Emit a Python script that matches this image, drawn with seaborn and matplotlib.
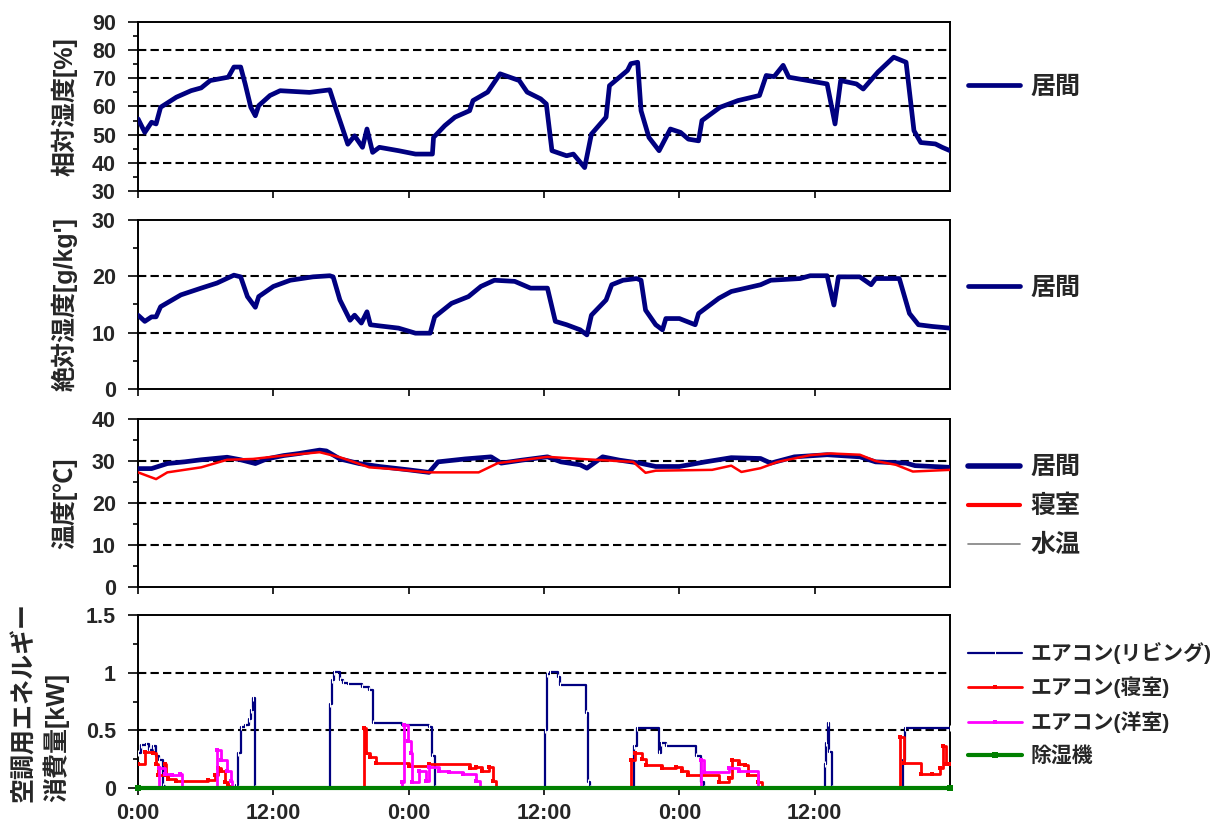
import numpy as np
import matplotlib
matplotlib.use("Agg")
import matplotlib.pyplot as plt
from matplotlib.lines import Line2D
import seaborn as sns

# x axis: hours from start (3 days)
x_ticks = [0, 12, 24, 36, 48, 60]
x_ticklabels = ["0:00", "12:00", "0:00", "12:00", "0:00", "12:00"]

# relative humidity (living) [%]
rh_t = [0, 0.6, 1.2, 1.6, 2.0, 3.4, 4.7, 5.6, 6.4, 8.0, 8.5, 9.1, 9.5, 10.0, 10.4, 10.7,
        11.7, 12.6, 15.2, 17.0, 17.6, 18.1, 18.6, 19.2, 19.9, 20.3, 20.8, 21.4, 23.1, 24.6,
        26.1, 26.2, 27.2, 28.1, 29.4, 29.7, 31.0, 32.1, 33.8, 34.5, 35.7, 36.2, 36.7, 38.0,
        38.6, 39.6, 40.2, 41.5, 41.8, 43.4, 43.7, 44.3, 44.6, 45.3, 46.2, 47.2, 48.1, 48.8,
        49.7, 50.0, 51.6, 53.2, 55.1, 55.7, 56.4, 57.2, 57.7, 61.1, 61.8, 62.3, 63.7, 64.3,
        65.6, 67.0, 68.1, 68.8, 69.4, 70.7, 71.3, 72.0]
rh_v = [55.6, 50.8, 54.4, 53.8, 59.7, 63.3, 65.6, 66.6, 69.2, 70.4, 74.0, 74.0, 68.0, 59.7, 56.7, 60.3,
        63.9, 65.6, 65.0, 65.9, 58.5, 52.6, 46.6, 49.6, 45.5, 52.0, 43.7, 45.5, 44.3, 43.1,
        43.1, 49.0, 53.2, 56.2, 58.5, 62.1, 65.1, 71.6, 69.2, 65.1, 62.7, 60.9, 44.3, 42.5,
        43.1, 38.3, 50.2, 56.2, 67.4, 72.8, 75.2, 75.7, 58.5, 49.0, 44.3, 52.0, 50.8, 48.4,
        47.8, 55.0, 59.7, 62.1, 63.9, 71.0, 70.6, 74.6, 70.4, 68.0, 53.8, 69.2, 68.0, 66.2,
        72.2, 77.5, 75.7, 51.4, 47.2, 46.7, 45.5, 44.3]

# absolute humidity (living) [g/kg']
ah_t = [0, 0.6, 1.2, 1.6, 2.0, 3.8, 5.6, 7.0, 8.5, 9.1, 9.7, 10.4, 10.7, 12.0, 13.5, 15.5,
        17.0, 17.3, 17.9, 18.8, 19.2, 19.8, 20.3, 20.6, 21.4, 23.1, 24.6, 25.9, 26.3, 27.8,
        29.3, 30.4, 31.6, 33.4, 34.8, 36.3, 37.0, 38.0, 39.2, 39.8, 40.2, 41.5, 42.0, 43.0,
        44.2, 44.6, 45.0, 45.9, 46.5, 46.8, 48.0, 49.4, 49.7, 51.5, 52.6, 55.2, 56.1, 58.7,
        59.6, 61.1, 61.7, 62.1, 64.0, 65.0, 65.4, 67.5, 68.4, 69.2, 70.4, 72.0]
ah_v = [13.1, 12.0, 12.8, 12.8, 14.6, 16.7, 17.9, 18.8, 20.2, 19.9, 16.4, 14.5, 16.4, 18.2, 19.3, 19.9,
        20.1, 19.9, 15.8, 12.2, 13.1, 11.7, 13.7, 11.4, 11.2, 10.8, 9.9, 9.9, 12.8, 15.2,
        16.4, 18.2, 19.3, 19.1, 17.9, 17.9, 12.0, 11.4, 10.5, 9.6, 13.1, 15.8, 18.5, 19.3,
        19.6, 19.3, 14.0, 11.4, 10.5, 12.5, 12.5, 11.4, 13.4, 16.1, 17.3, 18.5, 19.3, 19.6,
        20.1, 20.1, 14.9, 19.9, 19.9, 18.5, 19.6, 19.6, 13.4, 11.4, 11.1, 10.8]

# temperature [C]
tl_t = [0, 1.2, 2.6, 4.1, 5.6, 7.9, 9.1, 10.4, 11.4, 12.9, 14.3, 16.1, 16.7, 17.9, 19.6,
        21.4, 24.0, 25.8, 26.6, 29.0, 31.3, 32.2, 34.0, 36.3, 37.5, 39.2, 39.8, 41.2, 42.7,
        44.5, 45.9, 48.0, 50.3, 52.6, 55.2, 56.1, 58.2, 61.1, 64.0, 65.4, 68.1, 68.9, 72.0]
tl_v = [28.2, 28.2, 29.4, 29.8, 30.3, 30.9, 30.3, 29.4, 30.5, 31.3, 31.8, 32.6, 32.4, 30.5, 29.4,
        28.7, 27.9, 27.3, 29.8, 30.5, 31.0, 29.5, 30.2, 31.0, 29.8, 29.1, 28.3, 31.0, 30.2,
        29.5, 28.7, 28.7, 29.8, 30.8, 30.6, 29.5, 31.0, 31.5, 31.0, 29.8, 29.5, 28.9, 28.5]
tb_t = [0, 1.6, 2.6, 5.6, 7.9, 10.2, 12.9, 16.1, 17.9, 20.5, 22.5, 25.8, 27.5, 30.2, 31.9,
        34.0, 36.3, 39.2, 43.9, 45.0, 45.9, 50.9, 52.6, 53.5, 55.2, 56.7, 59.6, 61.4, 64.0,
        65.4, 67.2, 68.7, 72.0]
tb_v = [27.3, 25.7, 27.3, 28.5, 30.3, 30.5, 31.3, 32.1, 30.9, 28.5, 28.1, 27.3, 27.3, 27.3, 29.5,
        30.2, 31.0, 30.5, 29.8, 27.2, 27.7, 27.9, 28.9, 27.4, 28.3, 29.8, 31.4, 31.8, 31.5,
        30.0, 29.1, 27.5, 27.9]

# air-conditioning power [kW] (step data)
ac_liv_t = [0, 0.3, 0.7, 1.0, 1.3, 1.6, 1.9, 2.2, 2.4,
            8.7, 8.9, 9.1, 9.5, 9.8, 10.0, 10.2, 10.4,
            17.0, 17.2, 17.4, 17.9, 18.2, 18.6, 19.9, 20.5, 20.8, 23.4, 25.8, 26.1, 26.3,
            36.1, 36.3, 36.5, 37.2, 37.4, 39.7, 39.9, 40.1,
            44.0, 44.2, 46.2, 46.4, 46.8, 49.5, 49.9, 50.2,
            60.9, 61.0, 61.15, 61.3, 61.5,
            67.8, 68.0, 72.0]
ac_liv_v = [0.30, 0.37, 0.38, 0.33, 0.36, 0.28, 0.24, 0.02, 0.0,
            0.03, 0.30, 0.53, 0.55, 0.60, 0.68, 0.78, 0.0,
            0.73, 0.94, 1.01, 0.94, 0.91, 0.90, 0.88, 0.85, 0.56, 0.55, 0.53, 0.28, 0.0,
            0.50, 0.99, 1.01, 0.96, 0.89, 0.65, 0.05, 0.0,
            0.36, 0.52, 0.30, 0.39, 0.36, 0.28, 0.05, 0.0,
            0.21, 0.39, 0.56, 0.31, 0.0,
            0.24, 0.52, 0.52]
ac_bed_t = [0, 0.6, 1.3, 1.6, 1.8, 2.4, 2.5, 2.7, 3.4, 6.2, 6.8, 7.1, 7.4, 7.7, 8.0, 8.3,
            20.0, 20.2, 20.6, 21.1, 24.0, 25.8, 29.4, 30.0, 30.5, 31.1, 31.5, 31.7,
            43.7, 44.1, 44.7, 45.0, 46.5, 47.7, 48.2, 48.8, 51.5, 52.4, 52.7, 53.3, 53.8, 54.1, 55.0, 55.3,
            67.6, 67.9, 69.4, 70.4, 71.1, 71.4, 71.6, 72.0]
ac_bed_v = [0.21, 0.31, 0.30, 0.21, 0.11, 0.21, 0.11, 0.08, 0.06, 0.07, 0.11, 0.17, 0.15, 0.05, 0.02, 0.0,
            0.52, 0.30, 0.27, 0.22, 0.19, 0.21, 0.17, 0.18, 0.15, 0.18, 0.06, 0.0,
            0.24, 0.30, 0.25, 0.20, 0.17, 0.18, 0.15, 0.11, 0.05, 0.09, 0.24, 0.21, 0.20, 0.11, 0.05, 0.0,
            0.44, 0.22, 0.12, 0.12, 0.17, 0.36, 0.21, 0.21]
ac_west_t = [0, 1.9, 2.4, 3.0, 3.7, 3.9, 7.0, 7.4, 7.9, 8.2, 8.3,
             23.4, 23.6, 23.9, 24.2, 24.3, 24.9, 25.5, 25.8, 26.7, 27.6, 28.8, 30.0, 30.3,
             49.9, 50.2, 52.4, 53.3, 55.0, 72.0]
ac_west_v = [0.0, 0.17, 0.12, 0.11, 0.12, 0.0, 0.33, 0.24, 0.15, 0.06, 0.0,
             0.05, 0.55, 0.41, 0.30, 0.05, 0.15, 0.06, 0.18, 0.15, 0.14, 0.12, 0.06, 0.0,
             0.24, 0.14, 0.17, 0.15, 0.0, 0.0]
dehum_t = [0, 72.0]
dehum_v = [0.0, 0.0]

NAVY, RED, MAGENTA, GREEN, GRAY = "#000080", "#ff0000", "#ff00ff", "#008000", "#808080"

sns.set_style("ticks")
plt.rcParams["font.family"] = ["Liberation Sans", "Noto Sans CJK JP"]

fig = plt.figure(figsize=(12.27, 8.26), dpi=100)
L, W = 0.1125, 0.6618
rects = [[L, 0.7688, W, 0.2046], [L, 0.5291, W, 0.2046],
         [L, 0.2893, W, 0.2034], [L, 0.0460, W, 0.2094]]
ax1, ax2, ax3, ax4 = [fig.add_axes(r) for r in rects]

cjk = {"size": 18, "weight": "bold"}


def style(ax, lo, hi, step, grid_vals, label, label_x=-0.075):
    ax.set_xlim(0, 72)
    ax.set_ylim(lo, hi)
    ax.set_yticks(np.arange(lo, hi + step / 2, step))
    ax.set_yticks(np.arange(lo, hi, step / 2), minor=True)
    for g in grid_vals:
        ax.axhline(g, color="black", lw=1.5, ls=(0, (4, 2)), zorder=1)
    for s in ax.spines.values():
        s.set_linewidth(1.4)
        s.set_color("black")
        s.set_visible(True)
    ax.tick_params(axis="y", which="major", direction="out", length=7, width=1.4,
                   labelsize=15.5, pad=9)
    ax.tick_params(axis="y", which="minor", direction="out", length=3.5, width=1.4)
    ax.set_xticks(x_ticks)
    ax.tick_params(axis="x", direction="out", length=5, width=1.4, labelbottom=False)
    for t in ax.get_yticklabels():
        t.set_fontweight("bold")
    ax.set_xlabel("")
    ax.set_ylabel(label, fontdict=cjk, multialignment="left", linespacing=1.3)
    ax.yaxis.set_label_coords(label_x, 0.5)


def put_legend(ax, y, handles=None, size=18, spacing=0.65, hl=2.1):
    if handles is None:
        handles, _ = ax.get_legend_handles_labels()
    ax.legend(handles=handles, loc="center left", bbox_to_anchor=(1.022, y),
              frameon=False, prop={"size": size, "weight": "bold"},
              handlelength=hl, handletextpad=0.4, borderaxespad=0, borderpad=0,
              labelspacing=spacing)


line_kw = dict(estimator=None, sort=False)

# panel 1: relative humidity
sns.lineplot(x=rh_t, y=rh_v, ax=ax1, color=NAVY, lw=3.4, label="居間", zorder=3, **line_kw)
style(ax1, 30, 90, 10, [40, 50, 60, 70, 80], "相対湿度[%]")
put_legend(ax1, 0.615)

# panel 2: absolute humidity
sns.lineplot(x=ah_t, y=ah_v, ax=ax2, color=NAVY, lw=3.4, label="居間", zorder=3, **line_kw)
style(ax2, 0, 30, 10, [10, 20], "絶対湿度[g/kg']")
put_legend(ax2, 0.60)

# panel 3: temperature
sns.lineplot(x=tl_t, y=tl_v, ax=ax3, color=NAVY, lw=3.4, label="居間", zorder=3, **line_kw)
sns.lineplot(x=tb_t, y=tb_v, ax=ax3, color=RED, lw=1.8, label="寝室", zorder=4, **line_kw)
style(ax3, 0, 40, 10, [10, 20, 30], "温度[℃]")
h3 = [Line2D([], [], color=NAVY, lw=4.0), Line2D([], [], color=RED, lw=3.0),
      Line2D([], [], color=GRAY, lw=1.2)]
for h, lab in zip(h3, ["居間", "寝室", "水温"]):
    h.set_label(lab)
put_legend(ax3, 0.48, handles=h3, spacing=0.6)

# panel 4: AC energy
sns.lineplot(x=ac_liv_t, y=ac_liv_v, ax=ax4, color=NAVY, lw=1.6, drawstyle="steps-post",
             marker="|", markersize=4, label="エアコン(リビング)", zorder=3, **line_kw)
sns.lineplot(x=ac_bed_t, y=ac_bed_v, ax=ax4, color=RED, lw=2.0, drawstyle="steps-post",
             marker="s", markersize=3, markeredgewidth=0, label="エアコン(寝室)", zorder=3, **line_kw)
sns.lineplot(x=ac_west_t, y=ac_west_v, ax=ax4, color=MAGENTA, lw=2.0, drawstyle="steps-post",
             marker="s", markersize=3, markeredgewidth=0, label="エアコン(洋室)", zorder=3, **line_kw)
sns.lineplot(x=dehum_t, y=dehum_v, ax=ax4, color=GREEN, lw=3.0, marker="s", markersize=4,
             markeredgewidth=0, label="除湿機", zorder=5, clip_on=False, **line_kw)
style(ax4, 0, 1.5, 0.5, [0.5, 1.0], "空調用エネルギー\n消費量[kW]", label_x=-0.085)
ax4.set_yticklabels(["0", "0.5", "1", "1.5"], fontweight="bold")
ax4.tick_params(axis="x", labelbottom=True, labelsize=15.5, pad=6)
ax4.set_xticklabels(x_ticklabels, fontweight="bold")
put_legend(ax4, 0.486, size=15, spacing=0.62, hl=2.6)

fig.savefig("out.png", dpi=100)
